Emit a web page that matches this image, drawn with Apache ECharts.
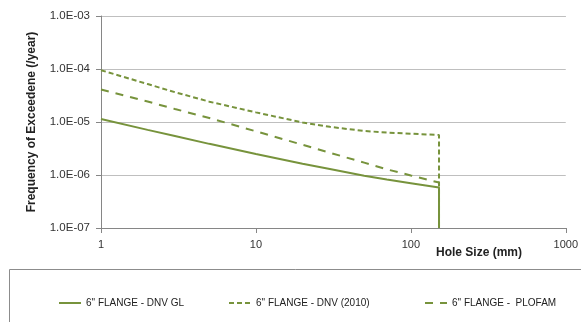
<!DOCTYPE html>
<html>
<head>
<meta charset="utf-8">
<script src="https://cdn.jsdelivr.net/npm/echarts@6/dist/echarts.min.js"></script>
<style>
  html, body { margin: 0; padding: 0; background: #fff; }
  #chart { width: 581px; height: 322px; }
</style>
</head>
<body>
<div id="chart"></div>
<script>
// Hole sizes (mm) for a 6" flange and exceedance frequencies (/year)
const holeSize = [1, 2, 3, 5, 10, 20, 30, 50, 70, 100, 152];
const dnvGl   = [1.14e-5, 7.1e-6, 5.44e-6, 3.87e-6, 2.49e-6, 1.63e-6, 1.30e-6, 9.7e-7, 8.2e-7, 6.98e-7, 5.8e-7];
const dnv2010 = [9.5e-5, 5.2e-5, 3.65e-5, 2.42e-5, 1.52e-5, 9.8e-6, 8.1e-6, 6.76e-6, 6.34e-6, 6.0e-6, 5.7e-6];
const plofam  = [4.12e-5, 2.43e-5, 1.76e-5, 1.19e-5, 6.67e-6, 3.72e-6, 2.63e-6, 1.71e-6, 1.28e-6, 9.8e-7, 7.2e-7];
// curves fall to the axis floor at the largest hole size (full bore)
const fullBore = 152;
const floorValue = 1e-7;

const seriesNames = ['6" FLANGE - DNV GL', '6" FLANGE - DNV (2010)', '6" FLANGE -  PLOFAM'];

const green = '#77933C';
const font = 'Liberation Sans';
const dashes = ['solid', [5, 3], [8, 7]];

function pairs(xs, ys) { return xs.map((x, i) => [x, ys[i]]); }

function sci(v) {
  const e = Math.round(Math.log10(v));
  const m = v / Math.pow(10, e);
  const sign = e < 0 ? '-' : '+';
  return m.toFixed(1) + 'E' + sign + String(Math.abs(e)).padStart(2, '0');
}

const chart = echarts.init(document.getElementById('chart'), null, { renderer: 'canvas' });

function legendFor(i, left) {
  return {
    left: left,
    top: 293,
    itemWidth: 22,
    itemHeight: 12,
    itemStyle: { opacity: 0, borderWidth: 0 },
    lineStyle: { color: green, width: 2, type: dashes[i] },
    textStyle: { fontFamily: font, fontSize: 10, color: '#222' },
    data: [seriesNames[i]]
  };
}

chart.setOption({
  animation: false,
  backgroundColor: '#fff',
  grid: { left: 101, right: 13, top: 16, bottom: 94, containLabel: false },
  xAxis: {
    type: 'log',
    logBase: 10,
    min: 1,
    max: 1000,
    axisLine: { show: true, lineStyle: { color: '#868686', width: 1 } },
    axisTick: { show: true, length: 5, inside: false, lineStyle: { color: '#868686' } },
    splitLine: { show: false },
    minorTick: { show: false },
    axisLabel: {
      fontFamily: font, fontSize: 11, color: '#333', margin: 11,
      showMaxLabel: true, showMinLabel: true,
      formatter: v => String(Math.round(v))
    }
  },
  yAxis: {
    type: 'log',
    logBase: 10,
    min: 1e-7,
    max: 1e-3,
    name: 'Frequency of Exceedene (/year)',
    nameLocation: 'middle',
    nameGap: 63,
    nameTextStyle: { fontFamily: font, fontSize: 12, fontWeight: 'bold', color: '#222' },
    axisLine: { show: true, lineStyle: { color: '#868686', width: 1 } },
    axisTick: { show: true, length: 5, inside: false, lineStyle: { color: '#868686' } },
    splitLine: { show: true, lineStyle: { color: '#BFBFBF', width: 1 } },
    axisLabel: { fontFamily: font, fontSize: 11.5, color: '#333', margin: 11, formatter: sci }
  },
  legend: [legendFor(0, 53), legendFor(1, 223), legendFor(2, 419)],
  graphic: [
    {
      type: 'rect',
      shape: { x: 9.5, y: 269.5, width: 640, height: 100 },
      style: { fill: 'none', stroke: '#8c8c8c', lineWidth: 1 },
      silent: true
    },
    {
      type: 'text',
      left: 436,
      top: 247,
      style: { text: 'Hole Size (mm)', fontFamily: font, fontSize: 12, fontWeight: 'bold', fill: '#222' },
      silent: true
    }
  ],
  series: [
    {
      name: seriesNames[0],
      type: 'line',
      symbol: 'none',
      smooth: false,
      z: 4,
      lineStyle: { color: green, width: 2, type: dashes[0] },
      itemStyle: { color: green },
      data: pairs(holeSize, dnvGl).concat([[fullBore, floorValue]])
    },
    {
      name: seriesNames[1],
      type: 'line',
      symbol: 'none',
      smooth: false,
      z: 3,
      lineStyle: { color: green, width: 2, type: dashes[1] },
      itemStyle: { color: green },
      data: pairs(holeSize, dnv2010).concat([[fullBore, floorValue]])
    },
    {
      name: seriesNames[2],
      type: 'line',
      symbol: 'none',
      smooth: false,
      z: 3,
      lineStyle: { color: green, width: 2, type: dashes[2] },
      itemStyle: { color: green },
      data: pairs(holeSize, plofam)
    }
  ]
});
</script>
</body>
</html>
